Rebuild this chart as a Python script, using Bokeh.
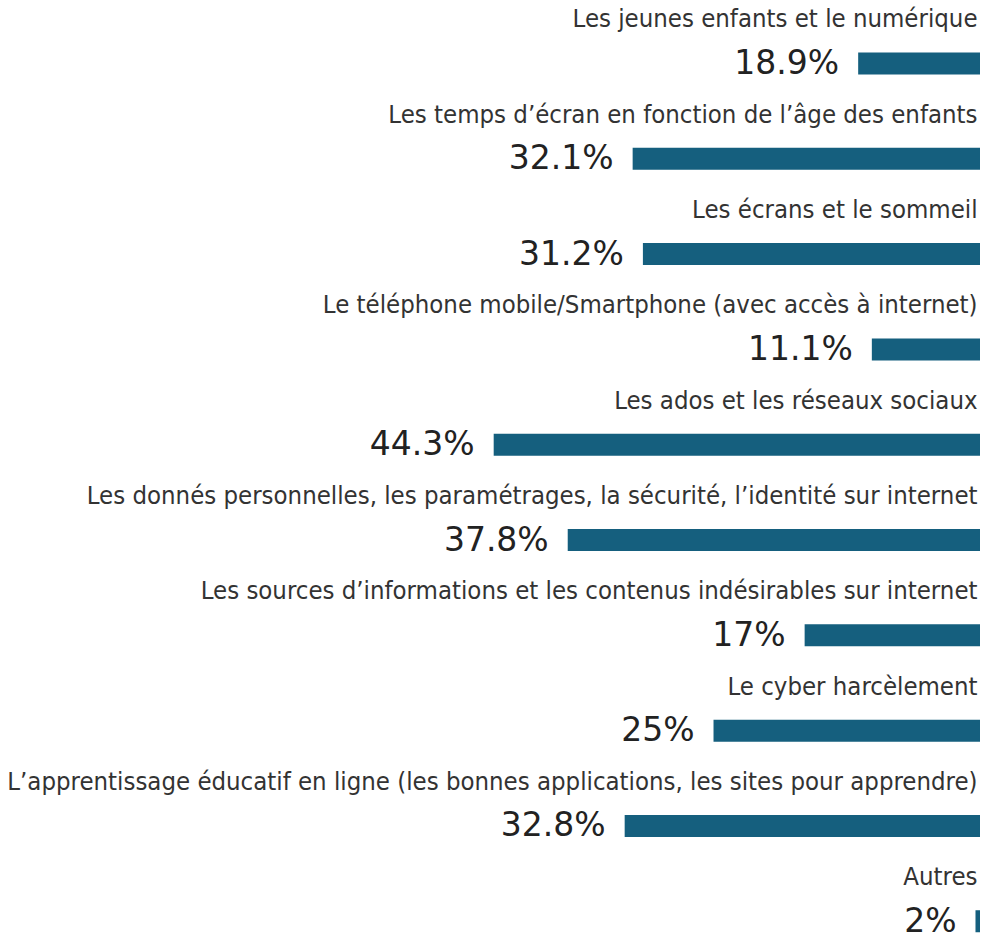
from bokeh.plotting import figure
from bokeh.models import ColumnDataSource, Range1d
from bokeh.core.properties import value
from bokeh.embed import file_html
from bokeh.resources import INLINE

categories = [
    "Les jeunes enfants et le numérique",
    "Les temps d’écran en fonction de l’âge des enfants",
    "Les écrans et le sommeil",
    "Le téléphone mobile/Smartphone (avec accès à internet)",
    "Les ados et les réseaux sociaux",
    "Les donnés personnelles, les paramétrages, la sécurité, l’identité sur internet",
    "Les sources d’informations et les contenus indésirables sur internet",
    "Le cyber harcèlement",
    "L’apprentissage éducatif en ligne (les bonnes applications, les sites pour apprendre)",
    "Autres",
]
value_labels = ["18.9%", "32.1%", "31.2%", "11.1%", "44.3%", "37.8%", "17%", "25%", "32.8%", "2%"]
# bar lengths as drawn in the picture (first bar is drawn shorter than its label)
bar_values = [12.3, 32.1, 31.2, 11.1, 44.3, 37.8, 17.0, 25.0, 32.8, 2.0]

rows = list(range(len(categories)))
src = ColumnDataSource(dict(row=rows, cat=categories, lab=value_labels, v=bar_values))

p = figure(width=980, height=944, output_backend="svg", toolbar_location=None,
           x_range=Range1d(87.6, 1.56), y_range=Range1d(9.244, -0.661),
           min_border=0, outline_line_color=None)
p.axis.visible = False
p.grid.visible = False

p.hbar(y="row", left=0, right="v", height=0.231, source=src,
       fill_color="#155f7e", line_color=None)

p.text(x="v", y="row", text="lab", source=src, text_align="right",
       text_baseline="middle", x_offset=-19, y_offset=-1,
       text_font=value("DejaVu Sans"), text_font_size="33px", text_color="#222222")

p.text(x=1.56, y="row", text="cat", source=src, text_align="right",
       text_baseline="middle", x_offset=-3, y_offset=-45,
       text_font=value("DejaVu Sans Condensed, Roboto"), text_font_size="25.5px",
       text_color="#333333")

open("out.html", "w").write(file_html(p, INLINE))
